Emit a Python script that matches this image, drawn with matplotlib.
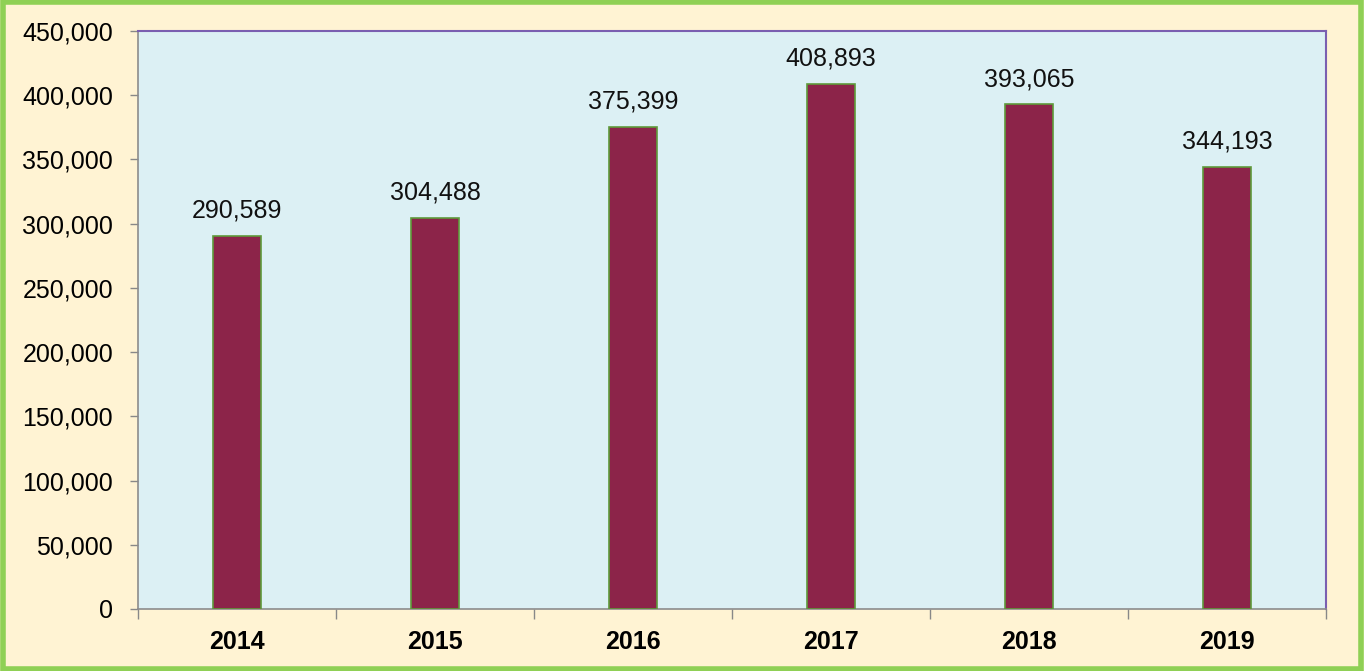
import matplotlib

matplotlib.use("Agg")
import matplotlib.pyplot as plt
import numpy as np
from matplotlib.patches import Rectangle
from matplotlib.ticker import FuncFormatter, FixedLocator

years = ["2014", "2015", "2016", "2017", "2018", "2019"]
values = [290589, 304488, 375399, 408893, 393065, 344193]
y_ticks = list(range(0, 450001, 50000))

plt.rcParams["font.family"] = ["Liberation Sans", "DejaVu Sans"]

fig = plt.figure(figsize=(13.64, 6.71), dpi=100, facecolor="#FFF3D3")
ax = fig.add_axes([138 / 1364, 1 - 609 / 671, (1326 - 138) / 1364, (609 - 31) / 671])
ax.set_facecolor("#DCF0F4")

x = np.arange(len(years))
ax.bar(x, values, width=0.245, color="#8C2449", edgecolor="#5E9A3A", linewidth=1.2, zorder=3)

for xi, v in zip(x, values):
    ax.annotate(f"{v:,}", (xi, v), xytext=(0, 13), textcoords="offset points",
                ha="center", va="baseline", fontsize=18, color="#111111")

ax.set_xlim(-0.5, len(years) - 0.5)
ax.set_ylim(0, 450000)
ax.set_yticks(y_ticks)
ax.yaxis.set_major_formatter(FuncFormatter(lambda v, _: f"{int(v):,}"))
ax.tick_params(axis="y", labelsize=18, length=6, color="#888888", width=1, pad=12)

ax.set_xticks(x)
ax.set_xticklabels(years, fontsize=18, fontweight="bold")
ax.tick_params(axis="x", which="major", length=0, pad=15)
ax.xaxis.set_minor_locator(FixedLocator(np.arange(-0.5, len(years), 1.0)))
ax.tick_params(axis="x", which="minor", length=7, color="#888888", width=1)

for side in ["left", "bottom"]:
    ax.spines[side].set_color("#8C8C8C")
    ax.spines[side].set_linewidth(1.2)
for side in ["top", "right"]:
    ax.spines[side].set_color("#7A5FB0")
    ax.spines[side].set_linewidth(1.5)

# green frame around the whole picture
fig.patches.append(Rectangle((0.002, 0.003), 0.996, 0.994, transform=fig.transFigure,
                             fill=False, edgecolor="#8FD055", linewidth=4))

fig.savefig("out.png", dpi=100, facecolor=fig.get_facecolor())
